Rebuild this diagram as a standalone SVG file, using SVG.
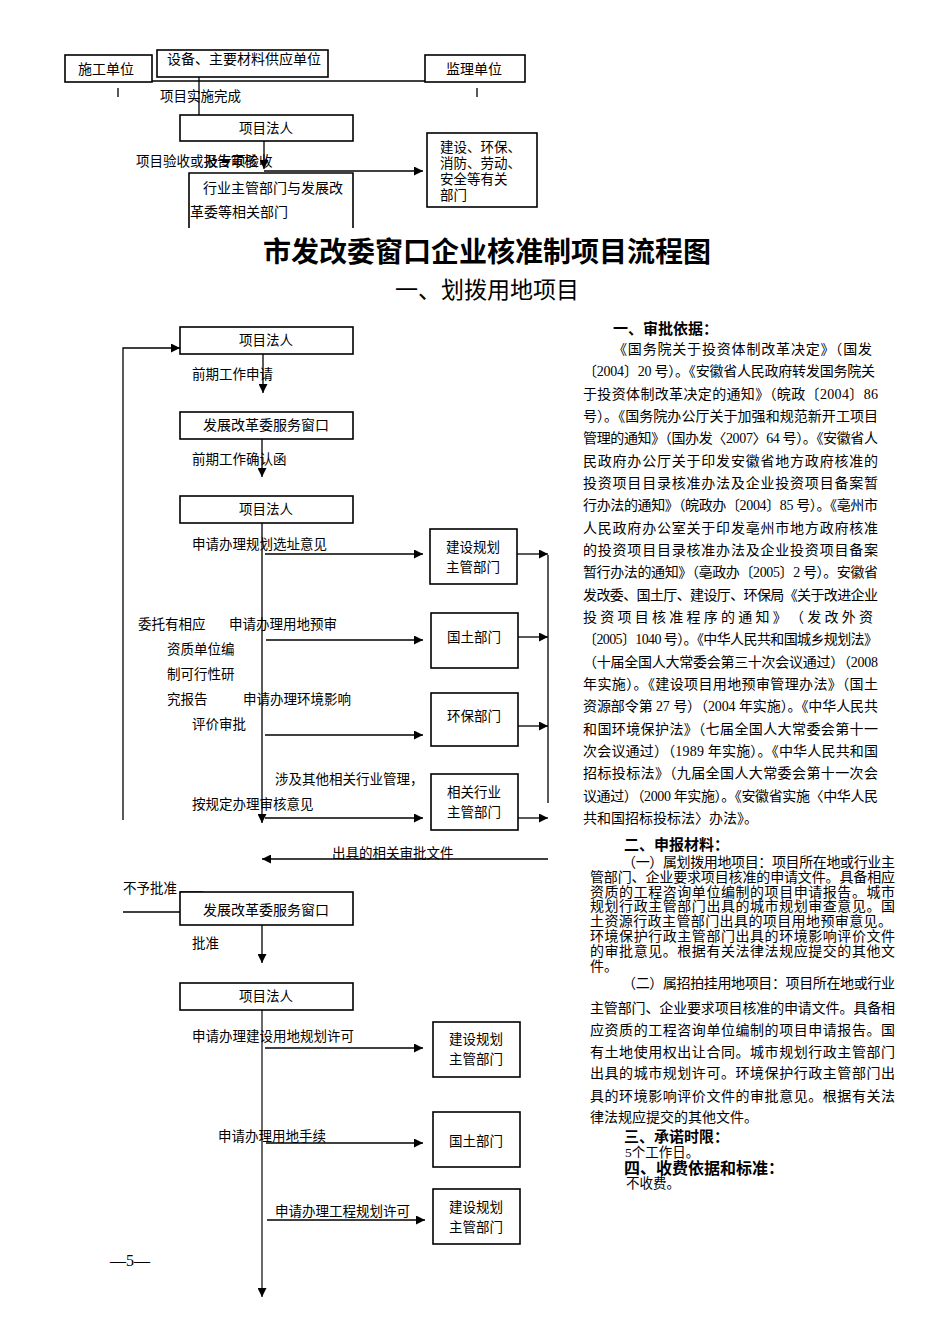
<svg xmlns="http://www.w3.org/2000/svg" width="950" height="1344" viewBox="0 0 950 1344">
<defs>
<marker id="ah" viewBox="0 0 10 10" refX="10" refY="5" markerWidth="9" markerHeight="9" markerUnits="userSpaceOnUse" orient="auto"><path d="M0,0 L10,5 L0,10 z" fill="#000"/></marker>
<style>
text{font-family:"Liberation Serif","Noto Sans CJK SC",serif;fill:#000}
.t{font-size:13.5px}
.b{font-size:14px}
.box{fill:#fff;stroke:#000;stroke-width:1.6}
.ln{fill:none;stroke:#000;stroke-width:1.3}
.ar{fill:none;stroke:#000;stroke-width:1.3;marker-end:url(#ah)}
.gr{fill:none;stroke:#444;stroke-width:1.6;marker-end:url(#ah)}
.p{font-size:14px}
.h{font-size:15px;font-weight:bold}
</style>
</defs>
<rect width="950" height="1344" fill="#fff"/>

<g id="connectors">
<line class="ln" x1="118" y1="81" x2="477" y2="81"/>
<line class="ln" x1="118" y1="88" x2="118" y2="97"/>
<line class="ln" x1="477" y1="88" x2="477" y2="97"/>
<line class="ar" x1="199" y1="77" x2="199" y2="127"/>
<line class="ar" x1="264" y1="141" x2="264" y2="169"/>
<line class="ar" x1="264" y1="171" x2="423" y2="171"/>

<polyline class="ar" points="123,820 123,348 180,348"/>
<line class="ar" x1="263" y1="354" x2="263" y2="393"/>
<line class="ar" x1="262" y1="439" x2="262" y2="477"/>
<line class="ar" x1="262" y1="523" x2="262" y2="823"/>
<line class="ar" x1="265" y1="554" x2="423" y2="554"/>
<line class="ar" x1="266" y1="640" x2="423" y2="640"/>
<line class="ar" x1="265" y1="735" x2="423" y2="735"/>
<line class="ar" x1="265" y1="818" x2="423" y2="818"/>
<line class="ar" x1="517" y1="554" x2="548" y2="554"/>
<line class="ar" x1="518" y1="637" x2="548" y2="637"/>
<line class="ar" x1="518" y1="726" x2="548" y2="726"/>
<line class="ar" x1="518" y1="818" x2="548" y2="818"/>
<line class="ln" x1="548" y1="555" x2="548" y2="803"/>
<line class="ar" x1="548" y1="859" x2="262" y2="859"/>
<line class="ln" x1="123" y1="912" x2="180" y2="912"/>
<line class="ln" x1="180" y1="892" x2="203" y2="892"/>
<line class="ar" x1="262" y1="925" x2="262" y2="963"/>
<line class="gr" x1="262" y1="1010" x2="262" y2="1297"/>
<line class="ar" x1="265" y1="1048" x2="423" y2="1048"/>
<line class="ar" x1="266" y1="1143" x2="423" y2="1143"/>
<line class="ar" x1="267" y1="1220" x2="425" y2="1220"/>
</g>

<g id="n-shigong"><rect class="box" x="65" y="55" width="87" height="27"/><text class="b" x="78" y="74">施工单位</text></g>
<g id="n-gongying"><rect class="box" x="157" y="50" width="171" height="27"/><text class="b" x="167" y="64">设备、主要材料供应单位</text></g>
<g id="n-jianli"><rect class="box" x="425" y="55" width="100" height="27"/><text class="b" x="446" y="74">监理单位</text></g>
<text class="t" x="160" y="101">项目实施完成</text>
<g id="n-faren0"><rect class="box" x="180" y="115" width="173" height="26"/><text class="t" x="266" y="133" text-anchor="middle">项目法人</text></g>
<text class="t" x="136" y="166">项目验收或报告审核</text>
<text class="t" x="205" y="166">及专项验收</text>
<g id="n-anquan"><rect class="box" x="427" y="133" width="110" height="74"/>
<text class="t" x="440" y="152">建设、环保、</text><text class="t" x="440" y="168">消防、劳动、</text><text class="t" x="440" y="184">安全等有关</text><text class="t" x="440" y="200">部门</text></g>
<g id="n-hangye"><path class="box" d="M189,228 V173 H353 V228"/>
<text class="b" x="203" y="193">行业主管部门与发展改</text><text class="b" x="190" y="217">革委等相关部门</text></g>

<text x="487" y="262" text-anchor="middle" style="font-size:28px;font-weight:bold">市发改委窗口企业核准制项目流程图</text>
<text x="487" y="298" text-anchor="middle" style="font-size:23px">一、划拨用地项目</text>

<g id="n-faren1"><rect class="box" x="180" y="327" width="173" height="27"/><text class="t" x="266" y="345" text-anchor="middle">项目法人</text></g>
<text class="t" x="192" y="379">前期工作申请</text>
<g id="n-chuangkou1"><rect class="box" x="180" y="412" width="173" height="27"/><text class="b" x="266" y="430" text-anchor="middle">发展改革委服务窗口</text></g>
<text class="t" x="192" y="464">前期工作确认函</text>
<g id="n-faren2"><rect class="box" x="180" y="496" width="173" height="27"/><text class="t" x="266" y="514" text-anchor="middle">项目法人</text></g>
<text class="t" x="192" y="549">申请办理规划选址意见</text>
<g id="n-guihua1"><rect class="box" x="430" y="529" width="87" height="55"/><text class="t" x="473" y="552" text-anchor="middle">建设规划</text><text class="t" x="473" y="572" text-anchor="middle">主管部门</text></g>
<text class="t" x="138" y="629">委托有相应</text>
<text class="t" x="229" y="629">申请办理用地预审</text>
<text class="t" x="167" y="654">资质单位编</text>
<text class="t" x="167" y="679">制可行性研</text>
<text class="t" x="167" y="704">究报告</text>
<text class="t" x="243" y="704">申请办理环境影响</text>
<text class="t" x="192" y="729">评价审批</text>
<g id="n-guotu1"><rect class="box" x="431" y="613" width="87" height="55"/><text class="t" x="474" y="642" text-anchor="middle">国土部门</text></g>
<g id="n-huanbao"><rect class="box" x="431" y="693" width="87" height="53"/><text class="t" x="474" y="721" text-anchor="middle">环保部门</text></g>
<text class="t" x="275" y="784">涉及其他相关行业管理，</text>
<text class="t" x="192" y="809">按规定办理审核意见</text>
<g id="n-xiangguan"><rect class="box" x="431" y="774" width="87" height="56"/><text class="t" x="474" y="797" text-anchor="middle">相关行业</text><text class="t" x="474" y="817" text-anchor="middle">主管部门</text></g>
<text class="t" x="332" y="858">出具的相关审批文件</text>

<text class="t" x="123" y="893">不予批准</text>
<g id="n-chuangkou2"><rect class="box" x="180" y="892" width="173" height="33"/><text class="b" x="266" y="915" text-anchor="middle">发展改革委服务窗口</text></g>
<text class="t" x="192" y="948">批准</text>
<g id="n-faren3"><rect class="box" x="180" y="983" width="173" height="27"/><text class="t" x="266" y="1001" text-anchor="middle">项目法人</text></g>
<text class="t" x="192" y="1041">申请办理建设用地规划许可</text>
<g id="n-guihua2"><rect class="box" x="433" y="1022" width="87" height="55"/><text class="t" x="476" y="1044" text-anchor="middle">建设规划</text><text class="t" x="476" y="1064" text-anchor="middle">主管部门</text></g>
<text class="t" x="218" y="1141">申请办理用地手续</text>
<g id="n-guotu2"><rect class="box" x="433" y="1112" width="87" height="55"/><text class="t" x="476" y="1146" text-anchor="middle">国土部门</text></g>
<text class="t" x="275" y="1216">申请办理工程规划许可</text>
<g id="n-guihua3"><rect class="box" x="433" y="1189" width="87" height="55"/><text class="t" x="476" y="1212" text-anchor="middle">建设规划</text><text class="t" x="476" y="1232" text-anchor="middle">主管部门</text></g>
<text x="110" y="1266" style="font-size:16px">—5—</text>

<g id="basis">
<text class="h" x="613" y="334">一、审批依据：</text>
<text class="p" x="613" y="354" textLength="259" lengthAdjust="spacing">《国务院关于投资体制改革决定》（国发</text>
<text class="p" x="583" y="376" textLength="292" lengthAdjust="spacing">〔2004〕20 号）。《安徽省人民政府转发国务院关</text>
<text class="p" x="583" y="399" textLength="295" lengthAdjust="spacing">于投资体制改革决定的通知》（皖政〔2004〕86</text>
<text class="p" x="583" y="421" textLength="295" lengthAdjust="spacing">号）。《国务院办公厅关于加强和规范新开工项目</text>
<text class="p" x="583" y="443" textLength="295" lengthAdjust="spacing">管理的通知》（国办发〈2007〉64 号）。《安徽省人</text>
<text class="p" x="583" y="466" textLength="295" lengthAdjust="spacing">民政府办公厅关于印发安徽省地方政府核准的</text>
<text class="p" x="583" y="488" textLength="295" lengthAdjust="spacing">投资项目目录核准办法及企业投资项目备案暂</text>
<text class="p" x="583" y="510" textLength="295" lengthAdjust="spacing">行办法的通知》（皖政办〔2004〕85 号）。《亳州市</text>
<text class="p" x="583" y="533" textLength="295" lengthAdjust="spacing">人民政府办公室关于印发亳州市地方政府核准</text>
<text class="p" x="583" y="555" textLength="295" lengthAdjust="spacing">的投资项目目录核准办法及企业投资项目备案</text>
<text class="p" x="583" y="577" textLength="295" lengthAdjust="spacing">暂行办法的通知》（亳政办〔2005〕2 号）。安徽省</text>
<text class="p" x="583" y="600" textLength="295" lengthAdjust="spacing">发改委、国土厅、建设厅、环保局《关于改进企业</text>
<text class="p" x="583" y="622" textLength="290" lengthAdjust="spacing">投 资 项 目 核 准 程 序 的 通 知 》 （ 发 改 外 资</text>
<text class="p" x="583" y="644" textLength="295" lengthAdjust="spacing">〔2005〕1040 号）。《中华人民共和国城乡规划法》</text>
<text class="p" x="583" y="667" textLength="295" lengthAdjust="spacing">（十届全国人大常委会第三十次会议通过）（2008</text>
<text class="p" x="583" y="689" textLength="295" lengthAdjust="spacing">年实施）。《建设项目用地预审管理办法》（国土</text>
<text class="p" x="583" y="711" textLength="295" lengthAdjust="spacing">资源部令第 27 号）（2004 年实施）。《中华人民共</text>
<text class="p" x="583" y="734" textLength="295" lengthAdjust="spacing">和国环境保护法》（七届全国人大常委会第十一</text>
<text class="p" x="583" y="756" textLength="295" lengthAdjust="spacing">次会议通过）（1989 年实施）。《中华人民共和国</text>
<text class="p" x="583" y="778" textLength="295" lengthAdjust="spacing">招标投标法》（九届全国人大常委会第十一次会</text>
<text class="p" x="583" y="801" textLength="295" lengthAdjust="spacing">议通过）（2000 年实施）。《安徽省实施〈中华人民</text>
<text class="p" x="583" y="823">共和国招标投标法〉办法》。</text>
</g>

<g id="materials">
<text class="h" x="624" y="850">二、申报材料：</text>
<text class="p" x="622" y="867" textLength="273" lengthAdjust="spacing">（一）属划拨用地项目：项目所在地或行业主</text>
<text class="p" x="590" y="882" textLength="305" lengthAdjust="spacing">管部门、企业要求项目核准的申请文件。具备相应</text>
<text class="p" x="590" y="897" textLength="305" lengthAdjust="spacing">资质的工程咨询单位编制的项目申请报告。城市</text>
<text class="p" x="590" y="911" textLength="305" lengthAdjust="spacing">规划行政主管部门出具的城市规划审查意见。国</text>
<text class="p" x="590" y="926" textLength="302" lengthAdjust="spacing">土资源行政主管部门出具的项目用地预审意见。</text>
<text class="p" x="590" y="941" textLength="305" lengthAdjust="spacing">环境保护行政主管部门出具的环境影响评价文件</text>
<text class="p" x="590" y="956" textLength="305" lengthAdjust="spacing">的审批意见。根据有关法律法规应提交的其他文</text>
<text class="p" x="590" y="971">件。</text>
<text class="p" x="622" y="988" textLength="273" lengthAdjust="spacing">（二）属招拍挂用地项目：项目所在地或行业</text>
<text class="p" x="590" y="1013" textLength="305" lengthAdjust="spacing">主管部门、企业要求项目核准的申请文件。具备相</text>
<text class="p" x="590" y="1035" textLength="305" lengthAdjust="spacing">应资质的工程咨询单位编制的项目申请报告。国</text>
<text class="p" x="590" y="1057" textLength="305" lengthAdjust="spacing">有土地使用权出让合同。城市规划行政主管部门</text>
<text class="p" x="590" y="1078" textLength="305" lengthAdjust="spacing">出具的城市规划许可。环境保护行政主管部门出</text>
<text class="p" x="590" y="1101" textLength="305" lengthAdjust="spacing">具的环境影响评价文件的审批意见。根据有关法</text>
<text class="p" x="590" y="1122">律法规应提交的其他文件。</text>
<text class="h" x="624" y="1142">三、承诺时限：</text>
<text class="t" x="625" y="1157">5个工作日。</text>
<text class="h" x="624" y="1174" style="font-size:16px">四、收费依据和标准：</text>
<text class="t" x="626" y="1188">不收费。</text>
</g>
</svg>
